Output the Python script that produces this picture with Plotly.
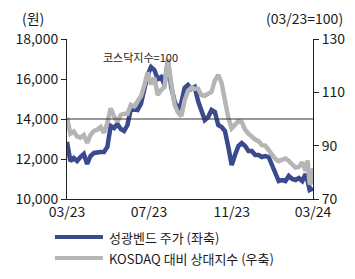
import plotly.graph_objects as go

dates = [
    "2023-03-01", "2023-03-06", "2023-03-11", "2023-03-16", "2023-03-21", "2023-03-26", "2023-03-31",
    "2023-04-05", "2023-04-10", "2023-04-15", "2023-04-20", "2023-04-25", "2023-04-30",
    "2023-05-05", "2023-05-10", "2023-05-15", "2023-05-20", "2023-05-25", "2023-05-30",
    "2023-06-04", "2023-06-09", "2023-06-14", "2023-06-19", "2023-06-24", "2023-06-29",
    "2023-07-04", "2023-07-09", "2023-07-14", "2023-07-19", "2023-07-24", "2023-07-29",
    "2023-08-03", "2023-08-08", "2023-08-13", "2023-08-18", "2023-08-23", "2023-08-28",
    "2023-09-02", "2023-09-07", "2023-09-12", "2023-09-17", "2023-09-22", "2023-09-27",
    "2023-10-02", "2023-10-07", "2023-10-12", "2023-10-17", "2023-10-22", "2023-10-27",
    "2023-11-01", "2023-11-06", "2023-11-11", "2023-11-16", "2023-11-21", "2023-11-26",
    "2023-12-01", "2023-12-06", "2023-12-11", "2023-12-16", "2023-12-21", "2023-12-26", "2023-12-31",
    "2024-01-05", "2024-01-10", "2024-01-15", "2024-01-20", "2024-01-25", "2024-01-30",
    "2024-02-04", "2024-02-09", "2024-02-14", "2024-02-19", "2024-02-22", "2024-02-25",
    "2024-02-28", "2024-03-01",
]

stock_price = [
    12850, 11900, 12050, 11900, 12100, 12250, 11750,
    12150, 12300, 12350, 12350, 12350, 12600,
    13650, 13550, 13750, 13500, 13400, 13700,
    14500, 14450, 14450, 14750, 15400, 16200,
    16600, 16450, 16000, 16100, 15700, 16900,
    15600, 14900, 14450, 14800, 15550, 15700,
    15500, 15600, 14900, 14400, 13950, 14100,
    14450, 14350, 13700, 13600, 13400, 12600,
    11700, 12200, 12650, 12800, 12650, 12400,
    12400, 12200, 12200, 12100, 12150, 12100, 11700,
    11300, 10900, 10950, 10900, 11150, 11000,
    10950, 11050, 10900, 11250, 10900, 10450,
    10500, 10550,
]

relative_index = [
    100.5, 94.5, 95.3, 93.5, 93.0, 94.0, 91.0,
    94.0, 95.5, 96.0, 97.0, 94.8, 98.5,
    104.0, 101.0, 99.0, 101.5, 102.0, 102.0,
    105.3, 104.7, 106.3, 108.5, 112.5, 117.5,
    113.0, 115.5, 109.0, 110.9, 112.0, 122.5,
    113.5, 105.5, 102.5, 101.0, 107.0, 110.5,
    111.8, 111.3, 111.3, 109.0, 108.7, 109.3,
    110.2, 114.5, 116.5, 113.5, 106.0, 100.5,
    96.5, 97.8, 99.2, 98.8, 96.0, 94.5,
    93.2, 92.3, 91.7, 90.2, 90.0, 88.3, 86.8,
    85.0, 84.2, 84.5, 85.2, 84.3, 83.2,
    81.8, 82.0, 83.8, 80.5, 84.5, 75.5,
    76.5, 81.5,
]

series_names = ["성광벤드 주가 (좌축)", "KOSDAQ 대비 상대지수 (우축)"]
series_colors = ["#3b4a8c", "#b5b5b5"]

x_tickvals = ["2023-03-01", "2023-07-01", "2023-11-01", "2024-03-01"]
x_ticktext = ["03/23", "07/23", "11/23", "03/24"]
left_ticks = [10000, 12000, 14000, 16000, 18000]
right_ticks = [70, 90, 110, 130]

FONT = "Noto Sans CJK KR, Noto Sans, sans-serif"
TXT = "#1a1a1a"

fig = go.Figure()
fig.add_trace(go.Scatter(
    x=dates, y=stock_price, mode="lines", name=series_names[0],
    line=dict(color=series_colors[0], width=4.5), yaxis="y", showlegend=False))
fig.add_trace(go.Scatter(
    x=dates, y=relative_index, mode="lines", name=series_names[1],
    line=dict(color=series_colors[1], width=4.5), yaxis="y2", showlegend=False))

axis_common = dict(showgrid=False, showline=True, linecolor="#222", linewidth=1,
                   zeroline=False, automargin=False, tickfont=dict(size=14, color=TXT))

fig.update_layout(
    width=347, height=271,
    margin=dict(l=59, r=42, t=31, b=80),
    paper_bgcolor="white", plot_bgcolor="white",
    font=dict(family=FONT, size=14, color=TXT),
    showlegend=False,
    xaxis=dict(type="date", range=["2023-03-01", "2024-03-01"],
               tickvals=x_tickvals, ticktext=x_ticktext, ticks="", **axis_common),
    yaxis=dict(range=[10000, 18000], tickvals=left_ticks, tickformat=",d",
               ticks="outside", ticklen=5, tickcolor="#222", **axis_common),
    yaxis2=dict(range=[70, 130], tickvals=right_ticks, overlaying="y", side="right",
                ticks="outside", ticklen=5, tickcolor="#222", **axis_common),
)

fig.add_shape(type="line", xref="paper", x0=0, x1=1, yref="y", y0=14000, y1=14000,
              line=dict(color="#333", width=1.2))

# custom legend (longer line samples as in reference)
legend_rows_y = [-0.2375, -0.369]
for name, color, ly in zip(series_names, series_colors, legend_rows_y):
    fig.add_shape(type="line", xref="paper", yref="paper", x0=-0.049, x1=0.146,
                  y0=ly, y1=ly, line=dict(color=color, width=4))
    fig.add_annotation(text=name, xref="paper", yref="paper", x=0.163, y=ly,
                       xanchor="left", yanchor="middle", showarrow=False,
                       font=dict(size=13, color=TXT))

fig.add_annotation(text="(원)", xref="paper", yref="paper", x=-0.138, y=1.13,
                   xanchor="center", yanchor="middle", showarrow=False,
                   font=dict(size=14, color=TXT))
fig.add_annotation(text="(03/23=100)", xref="paper", yref="paper", x=0.967, y=1.13,
                   xanchor="center", yanchor="middle", showarrow=False,
                   font=dict(size=14, color=TXT))
fig.add_annotation(text="코스닥지수=100", xref="paper", yref="paper", x=0.3, y=0.8875,
                   xanchor="center", yanchor="middle", showarrow=False,
                   font=dict(size=11, color=TXT))

fig.write_html("out.html")
